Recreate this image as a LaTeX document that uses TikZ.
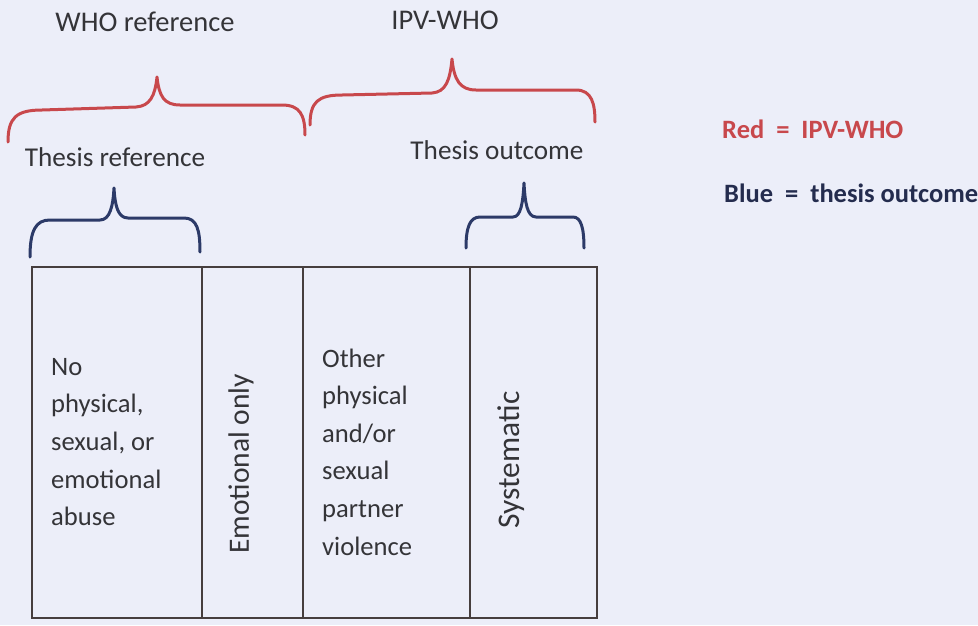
\documentclass[tikz,border=0pt]{standalone}
\usepackage{fontspec}
\setmainfont{Carlito}
\definecolor{bgc}{RGB}{236,238,249}
\definecolor{redb}{RGB}{200,72,76}
\definecolor{blueb}{RGB}{44,58,104}
\definecolor{txt}{RGB}{52,52,56}
\definecolor{legblue}{RGB}{36,44,78}
\definecolor{tab}{RGB}{70,62,62}
\begin{document}
\begin{tikzpicture}[x=1pt,y=-1pt,
  lbl/.style={inner sep=0pt,text=txt,font=\fontsize{28.5}{32}\selectfont},
  lblb/.style={inner sep=0pt,text=txt,font=\fontsize{27.2}{32}\selectfont},
  celltext/.style={inner sep=0pt,text=txt,align=left,font=\fontsize{26.6}{37.6}\selectfont},
  legend/.style={inner sep=0pt,anchor=west,font=\fontsize{26.5}{32}\selectfont\bfseries},
  redbrace/.style={draw=redb,line width=3pt,line cap=round,line join=round},
  bluebrace/.style={draw=blueb,line width=3pt,line cap=round,line join=round},
  tabline/.style={draw=tab,line width=1.8pt}]
\fill[bgc] (0,0) rectangle (978,625);
\useasboundingbox (0,0) rectangle (978,625);

% titles
\node[lbl] (who) at (145,22) {WHO reference};
\node[lbl] (ipv) at (445,20) {IPV-WHO};
\node[lblb] (thref) at (115,157) {Thesis reference};
\node[lblb] (thout) at (497,150) {Thesis outcome};

% legend
\node[legend,text=redb] (legred) at (722,129) {Red\ \ =\ \ IPV-WHO};
\node[legend,text=legblue] (legblue) at (724,193) {Blue\ \ =\ \ thesis outcome};

% red braces
\draw[redbrace] (8,142) .. controls (8,118) and (16,110) .. (42,110)
  -- (136,107) .. controls (150,106) and (155,96) .. (157,77)
  .. controls (159,96) and (164,105) .. (180,105)
  -- (282,105) .. controls (300,105) and (305,115) .. (305,135);
\draw[redbrace] (310,125) .. controls (310,102) and (318,95) .. (342,95)
  -- (432,93) .. controls (446,92) and (450,80) .. (452,59)
  .. controls (454,80) and (460,90) .. (476,90)
  -- (576,90) .. controls (592,90) and (595,104) .. (595,122);

% blue braces
\draw[bluebrace] (30,257) .. controls (30,230) and (36,220) .. (50,220)
  -- (100,220) .. controls (110,220) and (113,206) .. (114,188)
  .. controls (115,206) and (118,218) .. (128,218)
  -- (184,218) .. controls (197,218) and (200,230) .. (200,252);
\draw[bluebrace] (466,248) .. controls (466,227) and (470,217) .. (480,217)
  -- (513,217) .. controls (521,217) and (523,202) .. (524,183)
  .. controls (525,202) and (527,217) .. (536,217)
  -- (573,217) .. controls (581,217) and (584,228) .. (584,248);

% table
\draw[tabline] (32,267) rectangle (597,618);
\coordinate (c1t) at (202,267); \coordinate (c1b) at (202,618);
\coordinate (c2t) at (303,267); \coordinate (c2b) at (303,618);
\coordinate (c3t) at (470,267); \coordinate (c3b) at (470,618);
\draw[tabline] (c1t) -- (c1b);
\draw[tabline] (c2t) -- (c2b);
\draw[tabline] (c3t) -- (c3b);

\node[celltext,anchor=west] (cellA) at (51,442) {No\\physical,\\sexual, or\\emotional\\abuse};
\node[celltext,rotate=90,font=\fontsize{29.5}{32}\selectfont] (cellB) at (241,464) {Emotional only};
\node[celltext,anchor=west] (cellC) at (322,452) {Other\\physical\\and/or\\sexual\\partner\\violence};
\node[celltext,rotate=90,font=\fontsize{31.5}{34}\selectfont] (cellD) at (511,460) {Systematic};
\end{tikzpicture}
\end{document}
